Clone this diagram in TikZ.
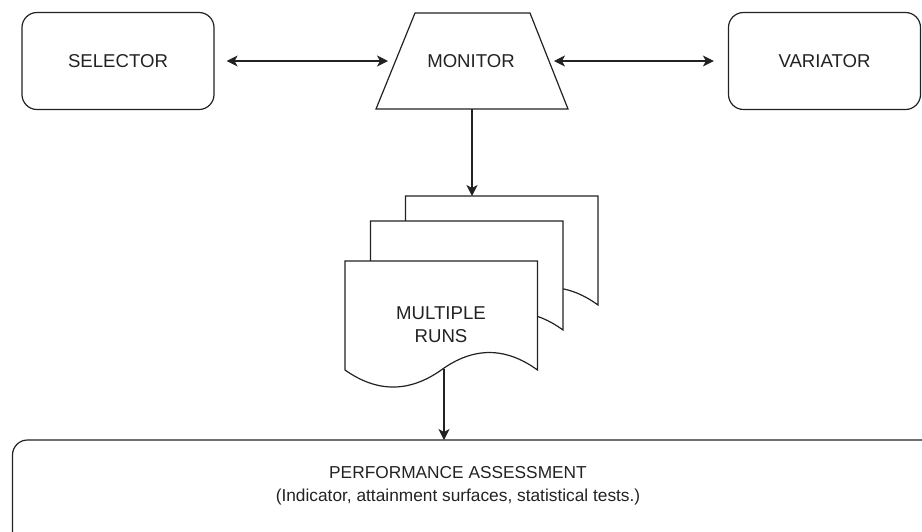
\documentclass[tikz,border=0pt]{standalone}
\usepackage{fontspec}
\setmainfont{Liberation Sans}
\usetikzlibrary{arrows.meta}

\definecolor{ink}{RGB}{34,34,34}

\tikzset{
  base/.style={line width=1.2pt, draw=ink},
  label/.style={font=\fontsize{18.6}{23}\selectfont, text=ink, align=center},
  block/.style={base, rectangle, rounded corners=15pt, minimum width=192pt,
    minimum height=97pt, label},
  tip/.tip={Stealth[length=11pt,width=11pt,inset=3pt]},
  arr/.style={base, -tip},
  biarr/.style={base, tip-tip},
  page/.style={base, fill=white, line join=miter},
}

% one wavy-bottomed document page, top-left corner at (#1,#2)
\newcommand\docpage[2]{%
  \begin{scope}[shift={(#1,#2)}]
    \draw[page] (0,0) -- (192.5,0) -- (192.5,109)
      .. controls (160.4,85.7) and (128.3,85.7) .. (96.25,109)
      .. controls (64.2,131.7) and (32.1,131.7) .. (0,109) -- cycle;
  \end{scope}}

\begin{document}
\begin{tikzpicture}[x=1pt,y=-1pt]
  \useasboundingbox (0,0) rectangle (922,531);
  \begin{scope}
  \clip (0,0) rectangle (922,531);

  % top row
  \node[block] (sel) at (118,61) {SELECTOR};
  \node[block] (var) at (824.5,61) {VARIATOR};
  \draw[base, line join=miter] (415,13) -- (530,13) -- (568,109) -- (376,109) -- cycle;
  \node[label] (mon) at (471,61) {MONITOR};
  \coordinate (monL) at (388,61);
  \coordinate (monR) at (554,61);
  \coordinate (monB) at (472,109);

  \draw[biarr, shorten <=12pt] (sel.east) -- (monL);
  \draw[biarr, shorten >=14pt] (monR) -- (var.west);

  % stacked result pages
  \docpage{405.5}{196}
  \docpage{370.5}{221}
  \docpage{345}{261}
  \coordinate (backtop) at (472,196);
  \coordinate (wave) at (444,369);
  \node[label] (runs) at (441,325) {MULTIPLE\\RUNS};

  \draw[arr] (monB) -- (backtop);

  % assessment box
  \draw[base, rounded corners=15pt] (12.5,532) -- (12.5,440) -- (960,440) -- (960,532);
  \coordinate (perftop) at (444,440);
  \node[label, font=\fontsize{17.3}{23}\selectfont] (perf) at (458,486)
    {PERFORMANCE ASSESSMENT\\(Indicator, attainment surfaces, statistical tests.)};

  \draw[arr] (wave) -- (perftop);
  \end{scope}
\end{tikzpicture}
\end{document}
